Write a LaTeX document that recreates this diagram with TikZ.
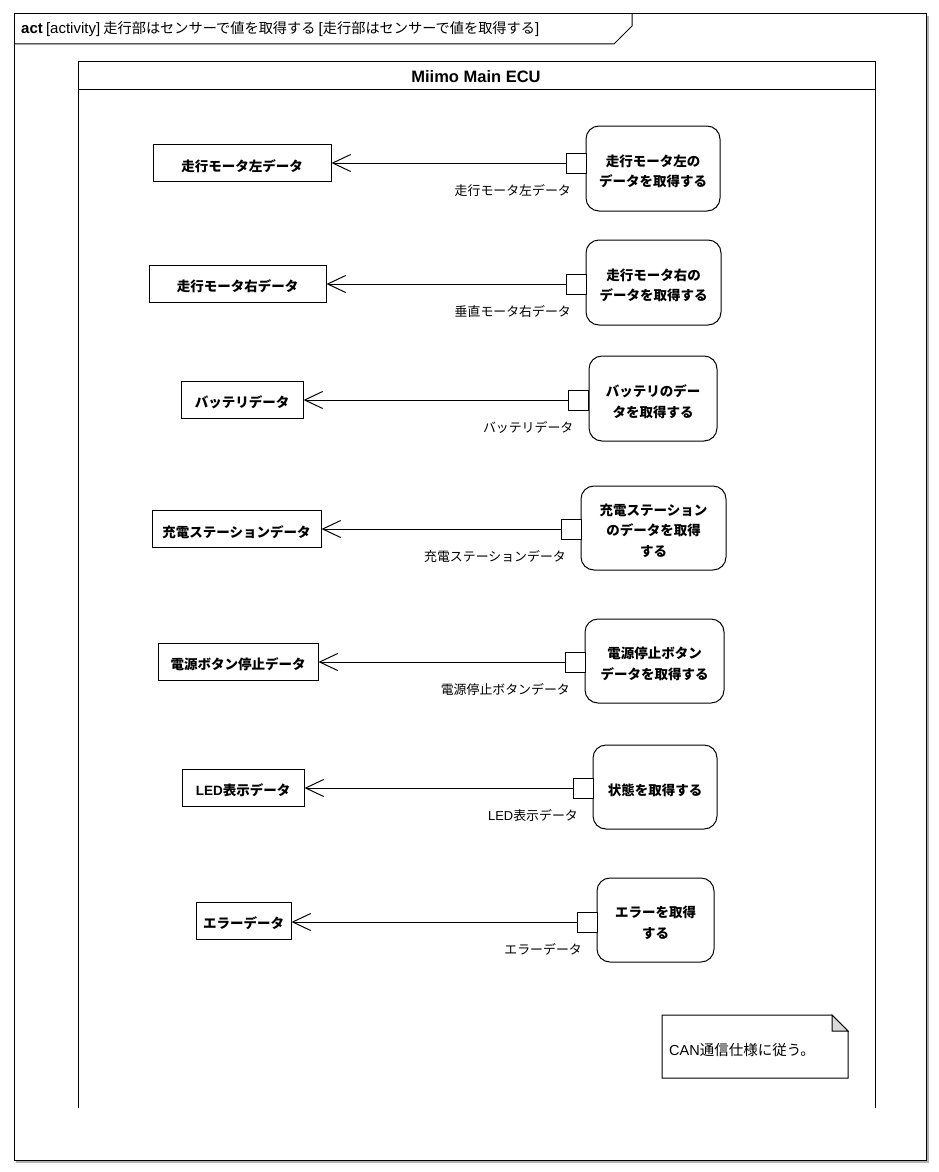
\documentclass[tikz,border=0pt]{standalone}
\usepackage{fontspec}
\setmainfont{Noto Sans CJK JP}
\newfontfamily\lat{Liberation Sans}
\usetikzlibrary{arrows.meta,calc}
\begin{document}
\begin{tikzpicture}[x=1pt,y=-1pt,
  lw/.style={line width=1pt},
  bigtxt/.style={font=\bfseries\fontsize{13.5}{20.5}\selectfont},
  objbox/.style={draw, lw, bigtxt, inner sep=0pt, minimum height=37pt, text height=16pt, text depth=0pt},
  actbox/.style={draw, lw, rounded corners=13pt, inner sep=0pt, minimum height=85pt},
  acttxt/.style={bigtxt, align=center, inner sep=0pt},
  pinbox/.style={draw, lw, fill=white, minimum width=20pt, minimum height=20pt, inner sep=0pt},
  flow/.style={lw, -{Straight Barb[length=18pt,width=17pt,line width=1pt]}},
  pinlbl/.style={font=\fontsize{12.9}{15}\selectfont, anchor=north east, inner sep=0pt},
]
\useasboundingbox (0,0) rectangle (939,1172);
% outer frame
\draw[line width=1.2pt, gray!60] (16,1162) -- (928,1162) -- (928,16);
\draw[lw] (14,14) rectangle (926,1160);
\draw[lw] (14,44) -- (614,44) -- (632,26) -- (632,14);
\node[anchor=west, inner sep=0pt, font=\fontsize{14.2}{16}\selectfont] (hdr) at (21,29)
  {{\lat\fontsize{15}{16}\selectfont\bfseries act} {\lat\fontsize{15}{16}\selectfont [activity]} 走行部はセンサーで値を取得する {\lat\fontsize{15}{16}\selectfont [}走行部はセンサーで値を取得する{\lat\fontsize{15}{16}\selectfont ]}};
% partition
\draw[lw] (78,1108) -- (78,62) -- (875,62) -- (875,1108);
\draw[lw] (78,89) -- (875,89);
\node[font=\lat\bfseries\fontsize{16.5}{18}\selectfont] (part) at (476,76.5) {Miimo Main ECU};

% row 1
\node[objbox, minimum width=178pt] (o1) at (242,163) {走行モータ左データ};
\node[actbox, minimum width=134pt] (a1) at (653,168.5) {};
\node[acttxt] (a1t) at ($(a1)+(0,3)$) {走行モータ左の\\データを取得する};
\node[pinbox] (p1) at (576,163) {};
\draw[flow] (p1.west) -- (p1.west -| o1.east);
\node[pinlbl] (l1) at ($(p1.south)+(-5,11)$) {走行モータ左データ};
% row 2
\node[objbox, minimum width=177pt] (o2) at (237.5,283.5) {走行モータ右データ};
\node[actbox, minimum width=135pt] (a2) at (653.5,282.5) {};
\node[acttxt] (a2t) at ($(a2)+(0,3)$) {走行モータ右の\\データを取得する};
\node[pinbox] (p2) at (576,284) {};
\draw[flow] (p2.west) -- (p2.west -| o2.east);
\node[pinlbl] (l2) at ($(p2.south)+(-5,11)$) {垂直モータ右データ};
% row 3
\node[objbox, minimum width=122pt] (o3) at (242,399.5) {バッテリデータ};
\node[actbox, minimum width=128pt] (a3) at (653,398.5) {};
\node[acttxt] (a3t) at ($(a3)+(0,3)$) {バッテリのデー\\タを取得する};
\node[pinbox] (p3) at (578.5,400) {};
\draw[flow] (p3.west) -- (p3.west -| o3.east);
\node[pinlbl] (l3) at ($(p3.south)+(-5,11)$) {バッテリデータ};
% row 4
\node[objbox, minimum width=169pt] (o4) at (236.5,529) {充電ステーションデータ};
\node[actbox, minimum width=145pt, minimum height=84pt] (a4) at (653.5,528) {};
\node[acttxt] (a4t) at ($(a4)+(0,2.5)$) {充電ステーション\\のデータを取得\\する};
\node[pinbox] (p4) at (571,529) {};
\draw[flow] (p4.west) -- (p4.west -| o4.east);
\node[pinlbl] (l4) at ($(p4.south)+(-5,11)$) {充電ステーションデータ};
% row 5
\node[objbox, minimum width=160pt] (o5) at (238,661.5) {電源ボタン停止データ};
\node[actbox, minimum width=139pt, minimum height=84pt] (a5) at (654.5,661) {};
\node[acttxt] (a5t) at ($(a5)+(0,3)$) {電源停止ボタン\\データを取得する};
\node[pinbox] (p5) at (575,662) {};
\draw[flow] (p5.west) -- (p5.west -| o5.east);
\node[pinlbl] (l5) at ($(p5.south)+(-5,11)$) {電源停止ボタンデータ};
% row 6
\node[objbox, minimum width=122pt] (o6) at (243,787.5) {{\lat\bfseries LED}表示データ};
\node[actbox, minimum width=124pt, minimum height=84pt] (a6) at (655,787) {};
\node[acttxt] (a6t) at ($(a6)+(0,3)$) {状態を取得する};
\node[pinbox] (p6) at (583,788) {};
\draw[flow] (p6.west) -- (p6.west -| o6.east);
\node[pinlbl] (l6) at ($(p6.south)+(-5,11)$) {{\lat LED}表示データ};
% row 7
\node[objbox, minimum width=95pt] (o7) at (243.5,920.5) {エラーデータ};
\node[actbox, minimum width=117pt, minimum height=84pt] (a7) at (655.5,920) {};
\node[acttxt] (a7t) at ($(a7)+(0,3)$) {エラーを取得\\する};
\node[pinbox] (p7) at (587,922) {};
\draw[flow] (p7.west) -- (p7.west -| o7.east);
\node[pinlbl] (l7) at ($(p7.south)+(-5,11)$) {エラーデータ};

% note
\draw[lw, fill=white] (662,1015) -- (832,1015) -- (848,1031) -- (848,1078) -- (662,1078) -- cycle;
\draw[lw, fill=gray!30] (832,1015) -- (832,1031) -- (848,1031) -- cycle;
\node[anchor=west, inner sep=0pt, font=\fontsize{14.5}{16}\selectfont] (note) at (669,1050) {{\lat CAN}通信仕様に従う。};
\end{tikzpicture}
\end{document}
